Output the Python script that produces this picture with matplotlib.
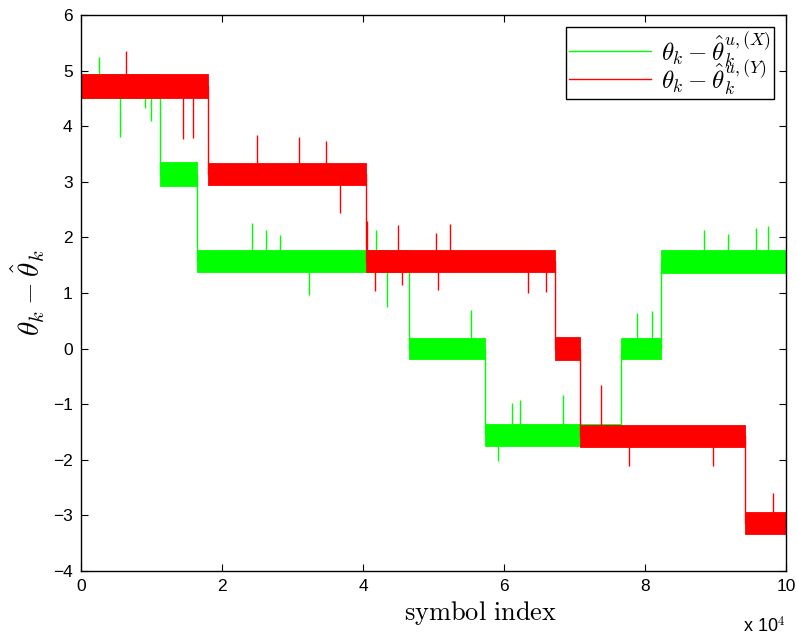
import matplotlib
matplotlib.use('Agg')
import matplotlib.pyplot as plt
from matplotlib.lines import Line2D

plt.rcParams['mathtext.fontset'] = 'cm'
plt.rcParams['font.family'] = ['Liberation Sans', 'DejaVu Sans']

# piecewise levels of theta_k - theta_hat_k (symbol index bounds)
green_starts = [0, 11250, 16500, 46500, 57300, 76600, 82300]
green_ends = [11250, 16500, 46500, 57300, 76600, 82300, 100000]
green_levels = [4.72, 3.14, 1.58, 0.0, -1.55, 0.0, 1.57]
green_spread = [0.22, 0.22, 0.2, 0.19, 0.2, 0.19, 0.21]

red_starts = [0, 18060, 40400, 67200, 70800, 94200]
red_ends = [18060, 40400, 67200, 70800, 94200, 100000]
red_levels = [4.72, 3.14, 1.57, 0.0, -1.57, -3.13]
red_spread = [0.22, 0.2, 0.2, 0.2, 0.2, 0.2]

# isolated outliers: symbol index and value
green_spike_x = [2550, 5530, 9100, 10000, 24200, 26300, 28200, 32300, 41800,
                 43400, 55300, 59200, 61200, 62200, 68400, 78800, 81000,
                 88400, 91800, 95700, 97500]
green_spike_y = [5.25, 3.81, 4.33, 4.1, 2.26, 2.13, 2.04, 0.96, 2.13,
                 0.75, 0.69, -2.03, -0.97, -0.93, -0.83, 0.64, 0.67,
                 2.14, 2.06, 2.16, 2.2]
red_spike_x = [6340, 14470, 15900, 24900, 30900, 34700, 36800, 40500, 41700,
               45000, 45500, 50400, 50700, 52300, 63400, 66000, 73800,
               77700, 89700, 98200]
red_spike_y = [5.36, 3.77, 3.79, 3.84, 3.81, 3.74, 2.44, 2.3, 1.04,
               2.22, 1.14, 2.07, 1.05, 2.24, 1.0, 1.02, -0.65,
               -2.12, -2.12, -2.6]


def level_at(x, starts, ends, levels):
    for s, e, l in zip(starts, ends, levels):
        if s <= x <= e:
            return l
    return levels[-1]


def draw_series(ax, starts, ends, levels, spread, spike_x, spike_y, color, z):
    xs = []
    ys = []
    for s, e, l, w in zip(starts, ends, levels, spread):
        ax.fill_between([s, e], [l - w, l - w], [l + w, l + w],
                        color=color, lw=0.6, zorder=z)
        xs += [s, e]
        ys += [l, l]
    ax.plot(xs, ys, color=color, lw=1.0, zorder=z)
    base = [level_at(x, starts, ends, levels) for x in spike_x]
    ax.vlines(spike_x, base, spike_y, color=color, lw=1.0, zorder=z)


fig = plt.figure(figsize=(7.97, 6.37), dpi=100)
ax = fig.add_axes([0.1016, 0.1036, 0.8846, 0.8729])

draw_series(ax, green_starts, green_ends, green_levels, green_spread,
            green_spike_x, green_spike_y, '#00ff00', 2)
draw_series(ax, red_starts, red_ends, red_levels, red_spread,
            red_spike_x, red_spike_y, '#ff0000', 3)

ax.set_xlim(0, 100000)
ax.set_ylim(-4, 6)
ax.set_xticks([0, 20000, 40000, 60000, 80000, 100000])
ax.set_xticklabels(['0', '2', '4', '6', '8', '10'])
ax.set_yticks(range(-4, 7))
ax.tick_params(direction='in', top=True, right=True, labelsize=12.5,
               length=5, width=0.8, pad=6)
for sp in ax.spines.values():
    sp.set_linewidth(1.0)
    sp.set_zorder(5)

ax.set_xlabel(r'$\mathrm{symbol\ index}$', fontsize=19)
ax.xaxis.set_label_coords(0.567, -0.05)
ax.set_ylabel(r'$\theta_k - \hat{\theta}_k$', fontsize=21, labelpad=4)
ax.text(1.0, -0.1, r'x 10$^4$', transform=ax.transAxes, ha='right',
        va='center', fontsize=13)

handles = [Line2D([], [], color='#00ff00', lw=1.0),
           Line2D([], [], color='#ff0000', lw=1.0)]
labels = [r'$\theta_k - \hat{\theta}_k^{u,(X)}$',
          r'$\theta_k - \hat{\theta}_k^{u,(Y)}$']
leg = ax.legend(handles, labels, loc='upper right', fontsize=18,
                fancybox=False, framealpha=1, edgecolor='black',
                borderpad=0.1, labelspacing=-0.45, handlelength=3.3,
                handletextpad=0.4, borderaxespad=0.5)
leg.get_frame().set_linewidth(1.0)
leg.set_zorder(6)

fig.savefig('out.png', dpi=100)
